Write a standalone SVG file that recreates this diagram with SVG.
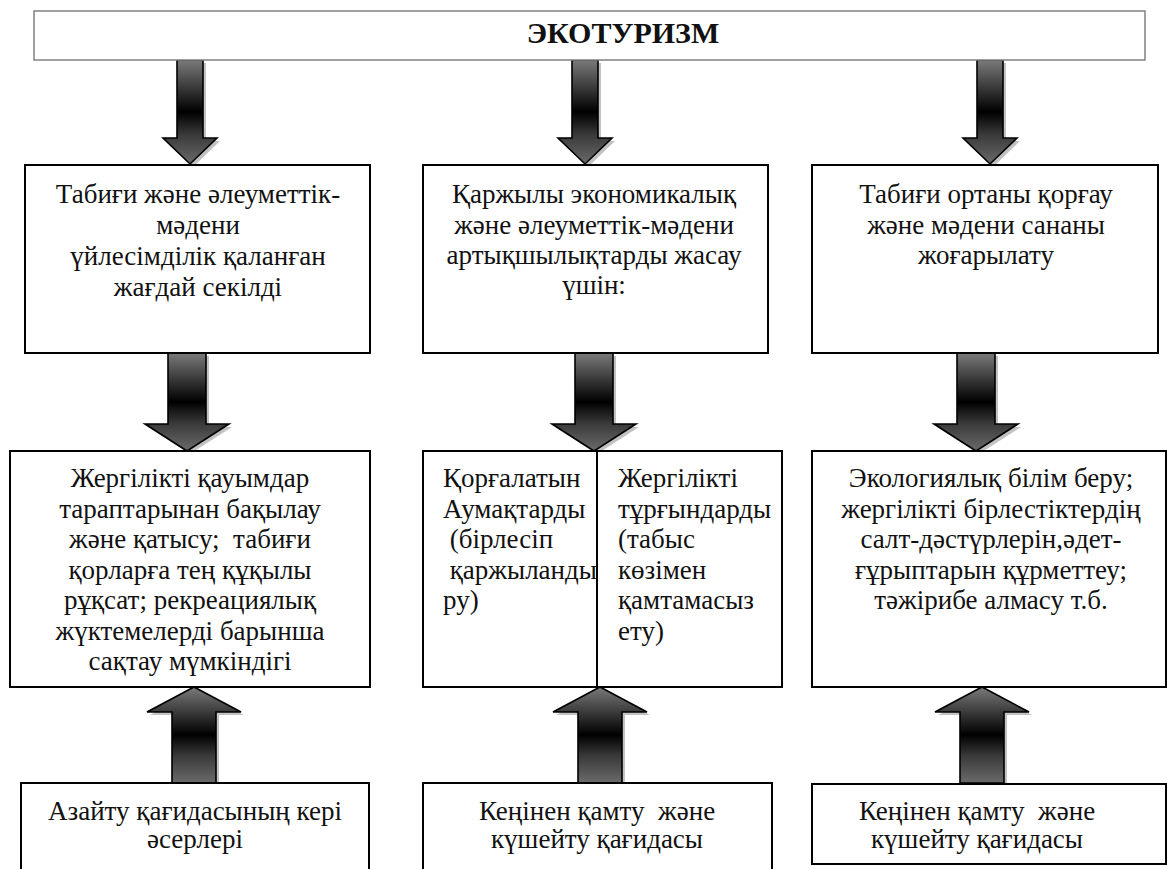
<svg xmlns="http://www.w3.org/2000/svg" width="1167" height="869" viewBox="0 0 1167 869">
<style>
.box{fill:#fff;stroke:#000;stroke-width:2}
.title{fill:#fff;stroke:#808080;stroke-width:1.5}
text{font-family:"Liberation Serif","DejaVu Serif","Times New Roman",serif}
.t{font-size:27px;fill:#111;white-space:pre}
.c{text-anchor:middle}
.h{font-size:30px;font-weight:bold;fill:#111;text-anchor:middle}
.arr{fill:url(#g);stroke:#000;stroke-width:1.6;stroke-linejoin:miter}
.sh{fill:#9a9a9a;opacity:0.6}
</style>
<defs>
<linearGradient id="g" x1="0" y1="0" x2="0" y2="1">
<stop offset="0" stop-color="#7a7a7a"/>
<stop offset="0.5" stop-color="#000"/>
<stop offset="0.72" stop-color="#3a3a3a"/>
<stop offset="1" stop-color="#6a6a6a"/>
</linearGradient>
</defs>
<rect width="1167" height="869" fill="#fff"/>

<g id="connectors">
<g transform="translate(3,3)" class="sh">
<polygon points="177,60 203,60 203,138 217,138 190,164 163,138 177,138"/>
<polygon points="572,60 598,60 598,138 612,138 585,164 558,138 572,138"/>
<polygon points="977,60 1003,60 1003,138 1017,138 990,164 963,138 977,138"/>
<polygon points="168,353 206,353 206,424 229,424 187,451 145,424 168,424"/>
<polygon points="575,353 613,353 613,424 636,424 594,451 552,424 575,424"/>
<polygon points="957,353 995,353 995,424 1018,424 976,451 934,424 957,424"/>
</g>
<polygon class="arr" points="177,60 203,60 203,138 217,138 190,164 163,138 177,138"/>
<polygon class="arr" points="572,60 598,60 598,138 612,138 585,164 558,138 572,138"/>
<polygon class="arr" points="977,60 1003,60 1003,138 1017,138 990,164 963,138 977,138"/>
<polygon class="arr" points="168,353 206,353 206,424 229,424 187,451 145,424 168,424"/>
<polygon class="arr" points="575,353 613,353 613,424 636,424 594,451 552,424 575,424"/>
<polygon class="arr" points="957,353 995,353 995,424 1018,424 976,451 934,424 957,424"/>
<g transform="translate(3,3)" class="sh">
<polygon points="172,783 216,783 216,712 241,712 194,687 147,712 172,712"/>
<polygon points="578,783 622,783 622,712 647,712 600,687 553,712 578,712"/>
<polygon points="960,783 1004,783 1004,712 1029,712 982,687 935,712 960,712"/>
</g>
<polygon class="arr" points="172,783 216,783 216,712 241,712 194,687 147,712 172,712"/>
<polygon class="arr" points="578,783 622,783 622,712 647,712 600,687 553,712 578,712"/>
<polygon class="arr" points="960,783 1004,783 1004,712 1029,712 982,687 935,712 960,712"/>
</g>

<g id="title">
<rect class="title" x="34" y="11" width="1111" height="49"/>
<text class="h" x="623" y="43">ЭКОТУРИЗМ</text>
</g>

<g id="n1">
<rect class="box" x="25" y="165" width="345" height="188"/>
<text class="t c" x="198" y="203">Табиғи және әлеуметтік-</text>
<text class="t c" x="198" y="234">мәдени</text>
<text class="t c" x="198" y="265">үйлесімділік қаланған</text>
<text class="t c" x="198" y="296">жағдай секілді</text>
</g>

<g id="n2">
<rect class="box" x="423" y="165" width="345" height="188"/>
<text class="t c" x="594" y="203">Қаржылы экономикалық</text>
<text class="t c" x="594" y="234">және әлеуметтік-мәдени</text>
<text class="t c" x="594" y="264">артықшылықтарды жасау</text>
<text class="t c" x="594" y="294">үшін:</text>
</g>

<g id="n3">
<rect class="box" x="812" y="165" width="346" height="188"/>
<text class="t c" x="986" y="203">Табиғи ортаны қорғау</text>
<text class="t c" x="986" y="234">және мәдени сананы</text>
<text class="t c" x="986" y="264">жоғарылату</text>
</g>

<g id="n4">
<rect class="box" x="10" y="451" width="360" height="236"/>
<text class="t c" x="190" y="487">Жергілікті қауымдар</text>
<text class="t c" x="190" y="518">тараптарынан бақылау</text>
<text class="t c" x="190" y="548">және қатысу;  табиғи</text>
<text class="t c" x="190" y="579">қорларға тең құқылы</text>
<text class="t c" x="190" y="609">рұқсат; рекреациялық</text>
<text class="t c" x="190" y="640">жүктемелерді барынша</text>
<text class="t c" x="190" y="670">сақтау мүмкіндігі</text>
</g>

<g id="n5">
<rect class="box" x="423" y="451" width="359" height="236"/>
<text class="t" x="443" y="487">Қорғалатын</text>
<text class="t" x="443" y="518">Аумақтарды</text>
<text class="t" x="443" y="548"> (бірлесіп</text>
<text class="t" x="443" y="579"> қаржыланды</text>
<text class="t" x="443" y="609">ру)</text>
<line x1="597" y1="451" x2="597" y2="687" stroke="#000" stroke-width="2"/>
<text class="t" x="618" y="487">Жергілікті</text>
<text class="t" x="618" y="518">тұрғындарды</text>
<text class="t" x="618" y="548">(табыс</text>
<text class="t" x="618" y="579">көзімен</text>
<text class="t" x="618" y="609">қамтамасыз</text>
<text class="t" x="618" y="640">ету)</text>
</g>

<g id="n6">
<rect class="box" x="812" y="451" width="354" height="236"/>
<text class="t c" x="991" y="487">Экологиялық білім беру;</text>
<text class="t c" x="991" y="518">жергілікті бірлестіктердің</text>
<text class="t c" x="991" y="548">салт-дәстүрлерін,әдет-</text>
<text class="t c" x="991" y="579">ғұрыптарын құрметтеу;</text>
<text class="t c" x="991" y="609">тәжірибе алмасу т.б.</text>
</g>

<g id="n7">
<rect class="box" x="21" y="783" width="348" height="100"/>
<text class="t c" x="195" y="820">Азайту қағидасының кері</text>
<text class="t c" x="195" y="848">әсерлері</text>
</g>

<g id="n8">
<rect class="box" x="423" y="783" width="349" height="100"/>
<text class="t c" x="597" y="820">Кеңінен қамту  және</text>
<text class="t c" x="597" y="848">күшейту қағидасы</text>
</g>

<g id="n9">
<rect class="box" x="812" y="784" width="354" height="80"/>
<text class="t c" x="977" y="820">Кеңінен қамту  және</text>
<text class="t c" x="977" y="848">күшейту қағидасы</text>
</g>
</svg>
